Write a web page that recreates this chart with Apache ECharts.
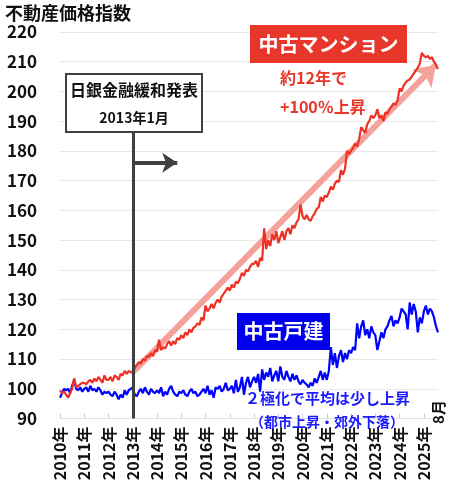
<!DOCTYPE html>
<html><head><meta charset="utf-8">
<script src="https://cdn.jsdelivr.net/npm/echarts@6/dist/echarts.min.js"></script>
<style>html,body{margin:0;padding:0;background:#fff}#c{width:450px;height:490px}</style>
</head><body><div id="c"></div>
<script>
const years = [2010,2011,2012,2013,2014,2015,2016,2017,2018,2019,2020,2021,2022,2023,2024,2025];
const lastMonth = 8;
const yTicks = {min: 90, max: 220, interval: 10};

// 中古マンション (monthly)
const mansion = [
  99.5, 98.5, 99, 98, 97, 98.5, 100, 103.5, 100.5, 101, 101.5, 102,
  102, 101.5, 102.5, 103, 102, 103.5, 102.5, 104, 103, 102, 104.5, 103,
  103, 104, 102.5, 104.5, 104, 103, 105, 104.5, 106, 105, 106, 105.5,
  105.5, 107, 108, 109, 108.5, 110, 109.5, 111, 110.7, 112, 111, 113,
  112.5, 116.5, 113, 114, 113.5, 115, 116, 114.5, 116, 115, 117, 116.5,
  118, 117, 119, 118, 120, 119, 120.5, 121, 122, 121.5, 124, 123,
  128, 126, 127, 128.5, 127, 129, 130, 129, 131, 132, 133, 134,
  133, 135, 134, 136, 135.5, 137, 139, 138, 140, 139.5, 141, 142,
  142, 143, 141, 144, 143, 154, 147, 150, 148, 152, 150, 153,
  149, 151, 153, 150, 153, 154, 152, 155, 154, 156, 157, 162,
  158, 157, 158.5, 157, 156.5, 158, 159, 160.5, 161, 164.5, 163, 165,
  164.5, 166, 168, 167, 169, 170, 169.5, 173.5, 172, 174, 180, 179,
  180, 181, 182.5, 181.5, 184, 188, 187, 186, 189, 190, 192, 191,
  192, 194, 191, 192, 190, 193, 192.5, 194, 195, 196, 195.5, 197,
  201, 200, 202, 203, 203.7, 204, 205, 206, 207, 208, 209.4, 213,
  212, 211.5, 212, 211, 211.5, 210, 209, 207.5
];
// 中古戸建 (monthly)
const house = [
  97, 98.5, 100, 99.5, 100, 98.5, 101, 103, 100, 99.5, 100.5, 99,
  100, 100.5, 99, 101, 99.5, 100, 99, 100.5, 99.5, 98, 99, 98.5,
  99, 98, 97.5, 99, 98, 96.5, 98, 97, 99.5, 98, 99.5, 100,
  100.5, 98, 97.5, 99, 100, 98.5, 100.5, 99, 98, 100, 99, 98.5,
  99.5, 98.5, 100.5, 97.5, 99, 98, 100, 101, 99, 98, 97.5, 99,
  98.5, 99.5, 98, 97.5, 99, 100, 98.5, 99, 97.5, 98, 99, 100,
  98.5, 101, 98, 99.5, 97, 100.5, 100, 101, 99, 100, 102, 99.5,
  100, 101, 98.5, 103, 99, 100.5, 104, 98, 102, 104, 100.5, 102.5,
  104, 102, 105, 99, 106.5, 103, 105.5, 104, 107, 102.5, 104.5, 106,
  102.5, 107.5, 104, 103, 106, 104, 102.5, 105, 103, 104.5, 102.5, 101.5,
  103, 102, 101.5, 100.5, 102, 101, 103.5, 102, 104, 106, 103, 105.5,
  103, 106, 114, 108, 112, 107, 111, 113, 109, 112, 110, 113,
  112, 114, 113, 122, 117, 121, 123, 118, 120, 117, 121, 119,
  118, 113, 116, 119, 117, 120, 121, 123, 124.5, 121, 123, 122,
  124, 127, 126, 125, 120, 129, 125, 128.5, 126, 119, 124, 122,
  126, 128, 125, 127, 126, 124, 121, 119
];

// annotation anchors (category index, value)
const bojIndex = 36;           // 2013年1月
const bojLineTop = 187;
const bojArrow = {from: 36, to: 58, value: 176};
const trendArrow = {from: [36, 105.5], to: [186, 209]};

const categories = [];
years.forEach(y => {
  const n = (y === years[years.length - 1]) ? lastMonth : 12;
  for (let m = 1; m <= n; m++) categories.push(y + '年' + m + '月');
});

const FONT = 'Noto Sans CJK JP';
const txt = (text, size, color, extra) => Object.assign({
  text: text, fontFamily: FONT, fontSize: size, fontWeight: 'bold', fill: color
}, extra || {});

const chart = echarts.init(document.getElementById('c'), null, {renderer: 'canvas'});

chart.setOption({
  animation: false,
  textStyle: {fontFamily: FONT},
  grid: {left: 60, right: 12, top: 32, bottom: 71.5},
  xAxis: {
    type: 'category',
    data: categories,
    boundaryGap: false,
    axisLine: {show: true, lineStyle: {color: '#e0e0e0', width: 1}},
    axisTick: {show: true, inside: true, length: 5, lineStyle: {color: '#cfcfcf'},
      interval: (i, v) => v.endsWith('年1月')},
    axisLabel: {
      rotate: 90, margin: 8, fontSize: 16, fontWeight: 'bold', color: '#111', fontFamily: FONT,
      interval: (i, v) => v.endsWith('年1月'),
      formatter: v => v.replace(/1月$/, '')
    },
    splitLine: {show: false}
  },
  yAxis: {
    type: 'value',
    min: yTicks.min, max: yTicks.max, interval: yTicks.interval,
    axisLine: {show: false}, axisTick: {show: false},
    axisLabel: {fontSize: 17, fontWeight: 'bold', color: '#111', margin: 23, fontFamily: FONT},
    splitLine: {lineStyle: {color: '#e8e8e8', width: 1}}
  },
  series: [
    {
      type: 'line', name: 'trend', data: [], z: 1, silent: true,
      markLine: {
        silent: true, animation: false, z: 1,
        symbol: ['none', 'arrow'], symbolSize: 20,
        label: {show: false},
        lineStyle: {color: '#f5a29c', width: 6, type: 'solid', opacity: 1},
        emphasis: {disabled: true},
        data: [[{coord: trendArrow.from}, {coord: trendArrow.to}]]
      }
    },
    {
      type: 'line', name: '中古戸建', data: house, z: 2, showSymbol: false, symbol: 'none',
      lineStyle: {color: '#0000ff', width: 2.2}, silent: true
    },
    {
      type: 'line', name: '中古マンション', data: mansion, z: 3, showSymbol: false, symbol: 'none',
      lineStyle: {color: '#ee3124', width: 2.2}, silent: true
    },
    {
      type: 'line', name: 'boj', data: [], z: 5, silent: true,
      markLine: {
        silent: true, animation: false, z: 6,
        label: {show: false},
        emphasis: {disabled: true},
        data: [
          [{coord: [bojIndex, yTicks.min], symbol: 'none', lineStyle: {color: '#404040', width: 3, type: 'solid'}},
           {coord: [bojIndex, bojLineTop], symbol: 'none'}],
          [{coord: [bojArrow.from, bojArrow.value], symbol: 'none', lineStyle: {color: '#404040', width: 4, type: 'solid'}},
           {coord: [bojArrow.to, bojArrow.value], symbol: 'arrow', symbolSize: 15}]
        ]
      }
    }
  ],
  graphic: [
    {type: 'text', left: 5, top: 4, z: 100, style: txt('不動産価格指数', 18, '#111')},
    {type: 'group', left: 65, top: 73, z: 100, children: [
      {type: 'rect', z: 100, shape: {x: 0, y: 0, width: 136, height: 58},
        style: {fill: '#fff', stroke: '#404040', lineWidth: 2}},
      {type: 'text', z: 101, x: 68, y: 16, style: txt('日銀金融緩和発表', 16, '#111', {align: 'center', verticalAlign: 'middle'})},
      {type: 'text', z: 101, x: 68, y: 44, style: txt('2013年1月', 14, '#111', {align: 'center', verticalAlign: 'middle'})}
    ]},
    {type: 'group', left: 250, top: 25, z: 100, children: [
      {type: 'rect', z: 100, shape: {x: 0, y: 0, width: 157, height: 38}, style: {fill: '#e8362a'}},
      {type: 'text', z: 101, x: 78.5, y: 19, style: txt('中古マンション', 20, '#fff', {align: 'center', verticalAlign: 'middle'})}
    ]},
    {type: 'text', left: 280, top: 70, z: 100, style: txt('約12年で', 16, '#e8362a')},
    {type: 'text', left: 280, top: 99, z: 100, style: txt('+100％上昇', 16, '#e8362a')},
    {type: 'group', left: 237, top: 313, z: 100, children: [
      {type: 'rect', z: 100, shape: {x: 0, y: 0, width: 93, height: 37}, style: {fill: '#0000ee'}},
      {type: 'text', z: 101, x: 46.5, y: 18.5, style: txt('中古戸建', 20, '#fff', {align: 'center', verticalAlign: 'middle'})}
    ]},
    {type: 'text', left: 245, top: 391, z: 100, style: txt('２極化で平均は少し上昇', 15, '#1a1aff')},
    {type: 'text', left: 250, top: 415, z: 100, style: txt('（都市上昇・郊外下落）', 14, '#1a1aff')},
    {type: 'text', x: 438, y: 412, rotation: Math.PI / 2, z: 100,
      style: txt('8月', 15, '#111', {align: 'center', verticalAlign: 'middle'})}
  ]
});
</script></body></html>
